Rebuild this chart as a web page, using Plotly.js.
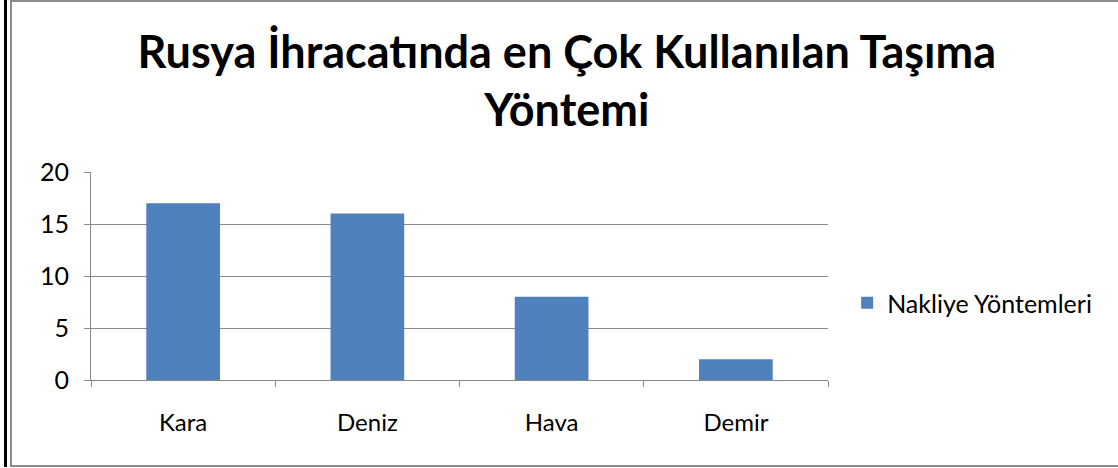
<!DOCTYPE html>
<html><head><meta charset="utf-8">
<script src="https://cdn.plot.ly/plotly-3.0.1.min.js"></script>
<style>
html,body{margin:0;padding:0;background:#fff;}
#wrap{position:relative;width:1118px;height:468px;overflow:hidden;}
#chart{position:absolute;left:0;top:0;width:1118px;height:468px;}
#b1{position:absolute;left:10px;top:0px;width:1112px;height:467px;border:2px solid #8c8c8c;box-sizing:border-box;pointer-events:none;}
#b2{position:absolute;left:4px;top:0px;width:3px;height:467px;background:#000;pointer-events:none;}
</style></head>
<body><div id="wrap"><div id="chart"></div><div id="b1"></div><div id="b2"></div></div>
<script>
const categories = ["Kara", "Deniz", "Hava", "Demir"];
const values = [17, 16, 8, 2];
const seriesName = "Nakliye Yöntemleri";
const titleText = "Rusya İhracatında en Çok Kullanılan Taşıma<br>Yöntemi";
const yTicks = [0, 5, 10, 15, 20];

const fontFam = "Lato, 'Open Sans', sans-serif";
Plotly.newPlot("chart", [{
  type: "bar", x: categories, y: values, name: seriesName,
  marker: {color: "#4f81bd"}, showlegend: true
}], {
  width: 1118, height: 468,
  margin: {l: 91, r: 290, t: 172, b: 88},
  paper_bgcolor: "rgba(0,0,0,0)", plot_bgcolor: "#fff",
  bargap: 0.6,
  title: {text: titleText, x: 0.507, xanchor: "center", y: 0.855, yanchor: "middle",
    font: {family: fontFam, size: 45, color: "#000", weight: "bold"}},
  xaxis: {showline: true, linecolor: "#888", linewidth: 1, ticks: "outside", tickson: "boundaries",
    ticklen: 6, tickcolor: "#888", tickfont: {family: fontFam, size: 24, color: "#000"},
    ticklabelstandoff: 21, showgrid: false, fixedrange: true},
  yaxis: {range: [0, 20], tickvals: yTicks, showline: true, linecolor: "#888", linewidth: 1,
    ticks: "outside", ticklen: 6, tickcolor: "#888", gridcolor: "#888", gridwidth: 1,
    ticklabelstandoff: 10,
    tickfont: {family: fontFam, size: 25, color: "#000"}, zeroline: false, fixedrange: true},
  showlegend: true,
  legend: {x: 1.026, y: 0.37, xanchor: "left", yanchor: "middle",
    font: {family: fontFam, size: 25, color: "#000"}, itemwidth: 30}
}, {displayModeBar: false, staticPlot: true});
</script></body></html>
